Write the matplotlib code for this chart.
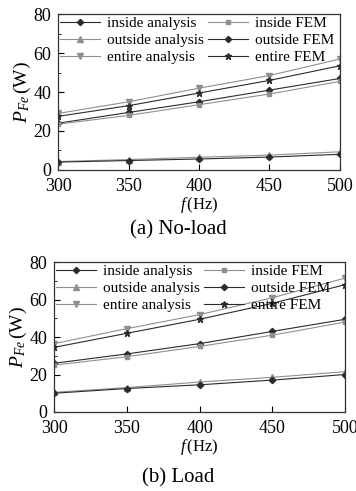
"""Iron loss vs frequency: no-load and load, analysis vs FEM."""
import matplotlib
matplotlib.use("Agg")
import matplotlib.pyplot as plt
from matplotlib.ticker import MultipleLocator

plt.rcParams["font.family"] = ["Liberation Serif", "DejaVu Serif"]
plt.rcParams["mathtext.fontset"] = "custom"
plt.rcParams["mathtext.rm"] = "Liberation Serif"
plt.rcParams["mathtext.it"] = "Liberation Serif:italic"

freq = [300, 350, 400, 450, 500]
labels = ["inside analysis", "inside FEM", "outside analysis",
          "outside FEM", "entire analysis", "entire FEM"]

# (a) no-load
noload_inside_ana = [24.0, 29.5, 35.0, 41.0, 47.0]
noload_inside_fem = [23.5, 28.0, 33.5, 39.0, 45.5]
noload_outside_ana = [4.3, 5.3, 6.5, 7.6, 9.3]
noload_outside_fem = [4.0, 4.8, 5.6, 6.6, 8.0]
noload_entire_ana = [29.0, 35.0, 42.0, 48.5, 57.0]
noload_entire_fem = [27.5, 33.0, 39.5, 46.0, 53.5]

# (b) load
load_inside_ana = [26.0, 31.0, 36.5, 43.0, 49.5]
load_inside_fem = [25.0, 29.5, 35.0, 41.0, 48.0]
load_outside_ana = [10.5, 13.0, 16.0, 18.5, 21.5]
load_outside_fem = [10.0, 12.5, 14.5, 17.0, 20.0]
load_entire_ana = [36.5, 44.5, 52.0, 61.0, 71.5]
load_entire_fem = [34.5, 42.0, 49.5, 58.0, 68.0]

GREY = "#8f8f8f"
DARK = "#2b2b2b"
styles = [
    dict(color=DARK, marker="D", ms=3.2),
    dict(color=GREY, marker="s", ms=3.2),
    dict(color=GREY, marker="^", ms=3.8),
    dict(color=DARK, marker="D", ms=3.2),
    dict(color=GREY, marker="v", ms=3.8),
    dict(color=DARK, marker="*", ms=4.5),
]

fig = plt.figure(figsize=(3.56, 4.91), dpi=100)
ax_a = fig.add_axes([0.163, 0.654, 0.792, 0.317])
ax_b = fig.add_axes([0.152, 0.161, 0.817, 0.305])


def draw(ax, series):
    handles = []
    for lab, ys, st in zip(labels, series, styles):
        h, = ax.plot(freq, ys, lw=0.8, label=lab, **st)
        handles.append(h)
    ax.set_xlim(300, 500)
    ax.set_ylim(0, 80)
    ax.xaxis.set_major_locator(MultipleLocator(50))
    ax.yaxis.set_major_locator(MultipleLocator(20))
    ax.yaxis.set_minor_locator(MultipleLocator(10))
    ax.tick_params(which="both", direction="in", labelsize=13)
    ax.tick_params(which="major", length=4)
    ax.tick_params(which="minor", length=2.5)
    ax.tick_params(axis="x", pad=5.5)
    ax.tick_params(axis="y", pad=5)
    for sp in ax.spines.values():
        sp.set_linewidth(0.9)
        sp.set_color("#333333")
    ax.set_xlabel(r"$f\,$(Hz)", fontsize=12, labelpad=0)
    ax.set_ylabel(r"$P_{Fe}\,$(W)", fontsize=14, labelpad=0)
    # row-wise order: ncol=2 fills columns first
    order = [0, 2, 4, 1, 3, 5]
    ax.legend([handles[i] for i in order], [labels[i] for i in order],
              loc="upper left", bbox_to_anchor=(0.0, 1.0), ncol=2,
              frameon=False, fontsize=11, handlelength=2.6,
              handletextpad=0.45, columnspacing=0.3, labelspacing=0.22,
              borderpad=0.15, borderaxespad=0.0)


draw(ax_a, [noload_inside_ana, noload_inside_fem, noload_outside_ana,
            noload_outside_fem, noload_entire_ana, noload_entire_fem])
draw(ax_b, [load_inside_ana, load_inside_fem, load_outside_ana,
            load_outside_fem, load_entire_ana, load_entire_fem])

fig.text(0.5, 0.532, "(a) No-load", ha="center", va="center", fontsize=15)
fig.text(0.5, 0.027, "(b) Load", ha="center", va="center", fontsize=15)

fig.savefig("out.png", dpi=100)
